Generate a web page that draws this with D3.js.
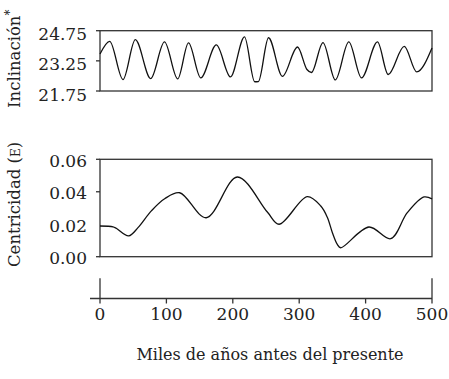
<!DOCTYPE html>
<html><head><meta charset="utf-8">
<script src="https://cdn.jsdelivr.net/npm/d3@7"></script>
<style>
html,body{margin:0;padding:0;background:#fff;}
svg{display:block;font-family:"DejaVu Serif",serif;}
</style></head>
<body>
<svg id="c" width="449" height="379"></svg>
<script>
// ---- data ----
const obliquityKyr = [0,14.6,34.6,53.2,76.4,97.1,117,133.3,151.7,175.2,196.5,217.6,233,238.5,253.8,274.8,297.4,311.7,318.5,335.8,354.4,374.7,393.8,417.9,434,458.2,477,500];
const obliquity    = [23.59,24.22,22.32,24.31,22.37,24.19,22.35,24.14,22.40,24.04,22.45,24.44,22.21,22.22,24.40,22.48,23.94,22.82,22.67,24.16,22.30,24.19,22.40,24.19,22.57,23.97,22.70,23.89];
const eccKyr = [0,19.6,24.5,43.2,57.2,77.3,97.4,120,160,206.8,252,269.6,312.2,332.5,342.3,350,357.4,362.5,405,437.8,462.8,488,500];
const ecc    = [0.0189,0.0184,0.0175,0.0128,0.0179,0.0282,0.0357,0.0394,0.0240,0.0491,0.0275,0.0200,0.0370,0.0312,0.0243,0.0148,0.0076,0.0055,0.0183,0.0111,0.0271,0.0368,0.0356];
const obliquityTicks = [21.75,23.25,24.75];
const eccTicks = [0,0.02,0.04,0.06];
const eccTickMarks = [0,0.04,0.06];
const xTicks = [0,100,200,300,400,500];
const xTitle = "Miles de años antes del presente";

const svg = d3.select("#c");
const ink = "#222";
const x = d3.scaleLinear().domain([0,500]).range([100,432]);
const yTop = d3.scaleLinear().domain([21.75,24.75]).range([91,30.7]);
const yBot = d3.scaleLinear().domain([0,0.06]).range([256.7,159.3]);
const fs = 17;

function panel(y, ticks, marks, fmt, dy, xs, ys, curve){
  const g = svg.append("g");
  g.append("rect").attr("x",x(0)).attr("y",y.range()[1])
    .attr("width",x(500)-x(0)).attr("height",y.range()[0]-y.range()[1])
    .attr("fill","none").attr("stroke","#333").attr("stroke-width",1.3);
  marks.forEach(v=>{
    g.append("line").attr("x1",x(0)-4).attr("x2",x(0)).attr("y1",y(v)).attr("y2",y(v))
      .attr("stroke","#333").attr("stroke-width",1.3);
  });
  ticks.forEach(v=>{
    g.append("text").attr("x",87).attr("y",y(v)+dy).attr("text-anchor","end")
      .attr("font-size",fs).attr("fill",ink).text(fmt(v));
  });
  const line = d3.line().x((d,i)=>x(xs[i])).y(d=>y(d)).curve(curve);
  g.append("path").attr("d",line(ys)).attr("fill","none").attr("stroke","#111").attr("stroke-width",1.3);
}
panel(yTop, obliquityTicks, obliquityTicks, d3.format(".2f"), 9.5, obliquityKyr, obliquity, d3.curveMonotoneX);
panel(yBot, eccTicks, eccTickMarks, d3.format(".2f"), 7.5, eccKyr, ecc, d3.curveCatmullRom.alpha(0.5));

// y titles
const t1 = svg.append("text").attr("transform","translate(20,"+108+") rotate(-90)")
  .attr("font-size",16.5).attr("fill",ink);
t1.append("tspan").text("Inclinación");
t1.append("tspan").attr("dy",-6).attr("font-size",12).text("*");

const t2 = svg.append("text").attr("transform","translate(20,"+267+") rotate(-90)")
  .attr("font-size",16.5).attr("fill",ink);
t2.append("tspan").text("Centricidad (");
t2.append("tspan").attr("font-size",12).text("E");
t2.append("tspan").text(")");

// x axis
const ax = svg.append("g");
const yAx = 298.5;
ax.append("line").attr("x1",90).attr("x2",x(500)).attr("y1",yAx).attr("y2",yAx)
  .attr("stroke","#333").attr("stroke-width",1.3);
xTicks.forEach(v=>{
  const end = (v===0||v===500);
  ax.append("line").attr("x1",x(v)).attr("x2",x(v))
    .attr("y1",end?278.3:yAx).attr("y2",yAx+5)
    .attr("stroke","#333").attr("stroke-width",1.3);
  ax.append("text").attr("x",x(v)).attr("y",319.5).attr("text-anchor","middle")
    .attr("font-size",fs).attr("fill",ink).text(v);
});
svg.append("text").attr("x",270).attr("y",360).attr("text-anchor","middle")
  .attr("font-size",16).attr("fill",ink).text(xTitle);
</script>
</body></html>
